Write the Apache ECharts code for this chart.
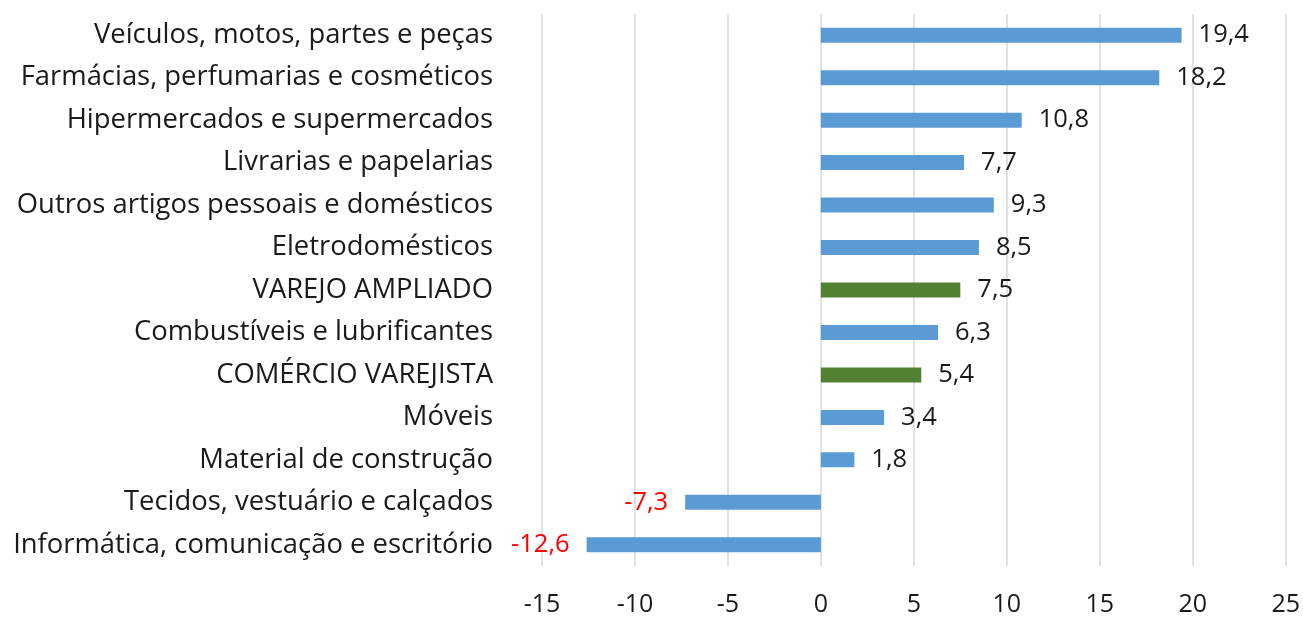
<!DOCTYPE html>
<html>
<head>
<meta charset="utf-8">
<script src="https://cdn.jsdelivr.net/npm/echarts@6/dist/echarts.min.js"></script>
<style>
html, body { margin: 0; padding: 0; background: #fff; }
#main { width: 1303px; height: 618px; }
</style>
</head>
<body>
<div id="main"></div>
<script>
var categories = ['Veículos, motos, partes e peças', 'Farmácias, perfumarias e cosméticos', 'Hipermercados e supermercados',
    'Livrarias e papelarias', 'Outros artigos pessoais e domésticos', 'Eletrodomésticos', 'VAREJO AMPLIADO',
    'Combustíveis e lubrificantes', 'COMÉRCIO VAREJISTA', 'Móveis', 'Material de construção',
    'Tecidos, vestuário e calçados', 'Informática, comunicação e escritório'];
var values = [19.4, 18.2, 10.8, 7.7, 9.3, 8.5, 7.5, 6.3, 5.4, 3.4, 1.8, -7.3, -12.6];
var highlighted = ['VAREJO AMPLIADO', 'COMÉRCIO VAREJISTA'];
var xTicks = [-15, 25, 5];

var font = 'Open Sans';
var chart = echarts.init(document.getElementById('main'));

var data = values.map(function (v, i) {
    var hl = highlighted.indexOf(categories[i]) >= 0;
    return {
        value: v,
        itemStyle: { color: hl ? '#548235' : '#5B9BD5' },
        label: {
            position: v < 0 ? 'left' : 'right',
            color: v < 0 ? '#FF0000' : '#1a1a1a'
        }
    };
});

var option = {
    animation: false,
    grid: { left: 542, right: 15, top: 14, bottom: 52, containLabel: false },
    xAxis: {
        type: 'value',
        min: xTicks[0],
        max: xTicks[1],
        interval: xTicks[2],
        axisLine: { show: false },
        axisTick: { show: false },
        axisLabel: { fontFamily: font, fontSize: 25, color: '#1a1a1a', margin: 26 },
        splitLine: { lineStyle: { color: '#d9d9d9', width: 1.5 } }
    },
    yAxis: {
        type: 'category',
        inverse: true,
        data: categories,
        axisLine: { show: false, onZero: false },
        axisTick: { show: false },
        axisLabel: { fontFamily: font, fontSize: 27.4, color: '#1a1a1a', margin: 49 }
    },
    series: [{
        type: 'bar',
        barWidth: 15,
        data: data,
        label: {
            show: true,
            distance: 17,
            fontFamily: font,
            fontSize: 25.5,
            formatter: function (p) { return String(p.value).replace('.', ','); }
        }
    }]
};

chart.setOption(option);
</script>
</body>
</html>
